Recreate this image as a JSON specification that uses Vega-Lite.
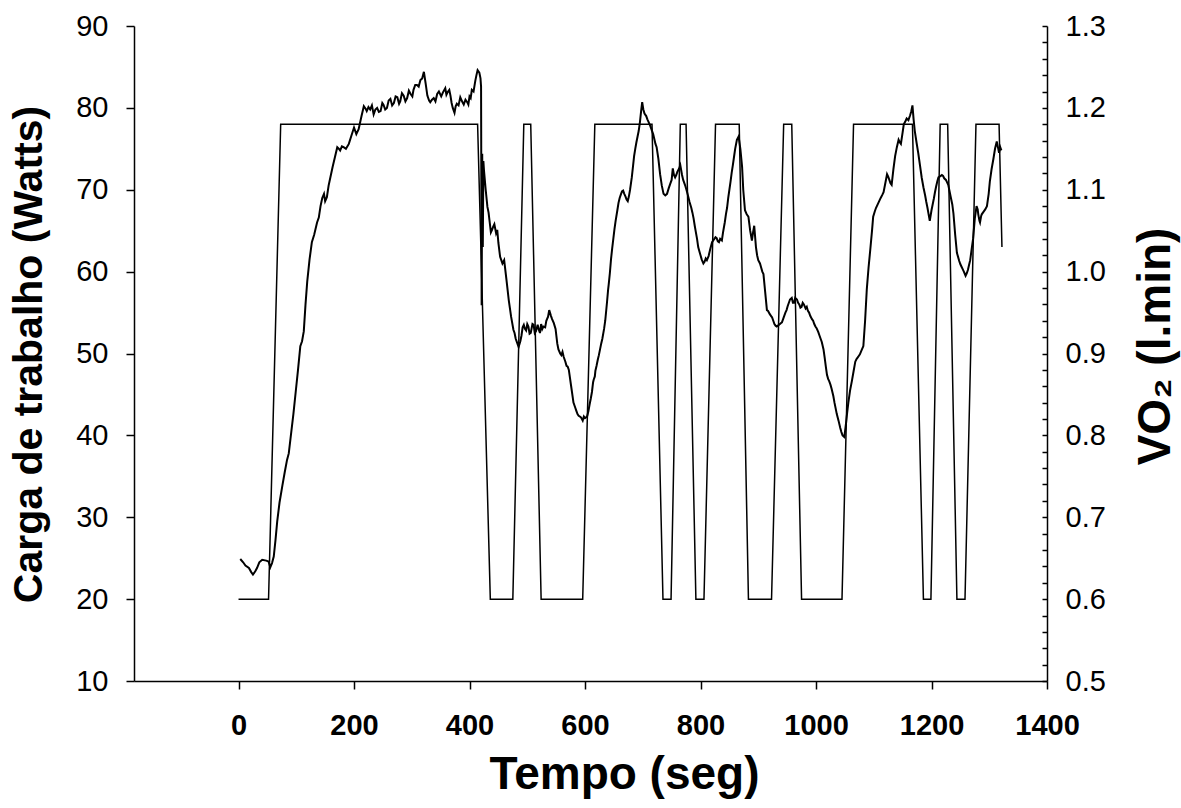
{
  "$schema": "https://vega.github.io/schema/vega-lite/v6.json",
  "autosize": {"type": "none"},
  "padding": {"left": 134, "top": 26, "right": 134, "bottom": 127},
  "width": 913,
  "height": 655,
  "background": "white",
  "config": {
    "view": {"stroke": null},
    "font": "Liberation Sans",
    "axis": {
      "grid": false,
      "domain": true,
      "ticks": true,
      "domainColor": "black",
      "domainWidth": 1.5,
      "tickColor": "black",
      "tickWidth": 1.5,
      "labelColor": "black",
      "titleColor": "black",
      "labelFont": "Liberation Sans",
      "titleFont": "Liberation Sans"
    }
  },
  "datasets": {
    "w": [
      {"t":0,"w":20},{"t":52,"w":20},{"t":73,"w":78},{"t":414,"w":78},{"t":436,"w":20},{"t":475,"w":20},{"t":494,"w":78},{"t":506,"w":78},{"t":524,"w":20},{"t":596,"w":20},{"t":617,"w":78},{"t":716,"w":78},{"t":735,"w":20},{"t":749,"w":20},{"t":765,"w":78},{"t":775,"w":78},{"t":792,"w":20},{"t":806,"w":20},{"t":826,"w":78},{"t":867,"w":78},{"t":883,"w":20},{"t":923,"w":20},{"t":944,"w":78},{"t":958,"w":78},{"t":975,"w":20},{"t":1045,"w":20},{"t":1065,"w":78},{"t":1167,"w":78},{"t":1186,"w":20},{"t":1199,"w":20},{"t":1215,"w":78},{"t":1228,"w":78},{"t":1244,"w":20},{"t":1258,"w":20},{"t":1277,"w":78},{"t":1317,"w":78},{"t":1322,"w":63}
    ],
    "v": [
      {"t":3,"v":0.649},{"t":8,"v":0.645},{"t":12,"v":0.641},{"t":18,"v":0.638},{"t":22,"v":0.633},{"t":25,"v":0.630},{"t":29,"v":0.634},{"t":32,"v":0.638},{"t":36,"v":0.645},{"t":41,"v":0.648},{"t":48,"v":0.647},{"t":52,"v":0.646},{"t":55,"v":0.639},{"t":58,"v":0.644},{"t":61,"v":0.652},{"t":64,"v":0.672},{"t":67,"v":0.695},{"t":71,"v":0.718},{"t":76,"v":0.739},{"t":80,"v":0.755},{"t":84,"v":0.770},{"t":87,"v":0.778},{"t":90,"v":0.796},{"t":95,"v":0.826},{"t":99,"v":0.853},{"t":103,"v":0.880},{"t":107,"v":0.909},{"t":110,"v":0.915},{"t":113,"v":0.927},{"t":116,"v":0.960},{"t":119,"v":0.988},{"t":123,"v":1.015},{"t":127,"v":1.036},{"t":131,"v":1.045},{"t":136,"v":1.060},{"t":139,"v":1.066},{"t":142,"v":1.080},{"t":145,"v":1.090},{"t":148,"v":1.095},{"t":150,"v":1.086},{"t":153,"v":1.091},{"t":156,"v":1.105},{"t":159,"v":1.115},{"t":163,"v":1.128},{"t":167,"v":1.140},{"t":171,"v":1.152},{"t":174,"v":1.150},{"t":176,"v":1.148},{"t":179,"v":1.153},{"t":182,"v":1.152},{"t":186,"v":1.150},{"t":191,"v":1.156},{"t":195,"v":1.165},{"t":200,"v":1.176},{"t":204,"v":1.168},{"t":208,"v":1.174},{"t":213,"v":1.190},{"t":217,"v":1.202},{"t":220,"v":1.199},{"t":222,"v":1.196},{"t":225,"v":1.201},{"t":228,"v":1.198},{"t":231,"v":1.203},{"t":234,"v":1.192},{"t":237,"v":1.198},{"t":240,"v":1.200},{"t":243,"v":1.195},{"t":246,"v":1.196},{"t":249,"v":1.206},{"t":251,"v":1.204},{"t":254,"v":1.198},{"t":257,"v":1.200},{"t":260,"v":1.209},{"t":263,"v":1.211},{"t":266,"v":1.203},{"t":269,"v":1.206},{"t":272,"v":1.214},{"t":275,"v":1.213},{"t":278,"v":1.205},{"t":280,"v":1.208},{"t":283,"v":1.218},{"t":286,"v":1.215},{"t":289,"v":1.208},{"t":292,"v":1.212},{"t":295,"v":1.221},{"t":298,"v":1.217},{"t":301,"v":1.214},{"t":303,"v":1.222},{"t":306,"v":1.228},{"t":309,"v":1.228},{"t":312,"v":1.226},{"t":315,"v":1.234},{"t":318,"v":1.236},{"t":321,"v":1.244},{"t":324,"v":1.230},{"t":327,"v":1.215},{"t":330,"v":1.209},{"t":332,"v":1.207},{"t":335,"v":1.210},{"t":338,"v":1.212},{"t":341,"v":1.208},{"t":344,"v":1.217},{"t":347,"v":1.220},{"t":351,"v":1.214},{"t":354,"v":1.219},{"t":358,"v":1.224},{"t":360,"v":1.216},{"t":362,"v":1.219},{"t":365,"v":1.222},{"t":367,"v":1.215},{"t":369,"v":1.206},{"t":371,"v":1.200},{"t":374,"v":1.194},{"t":376,"v":1.202},{"t":378,"v":1.205},{"t":381,"v":1.203},{"t":384,"v":1.213},{"t":387,"v":1.208},{"t":390,"v":1.204},{"t":393,"v":1.210},{"t":396,"v":1.207},{"t":398,"v":1.204},{"t":400,"v":1.214},{"t":402,"v":1.212},{"t":404,"v":1.222},{"t":407,"v":1.220},{"t":410,"v":1.233},{"t":412,"v":1.240},{"t":414,"v":1.246},{"t":417,"v":1.243},{"t":419,"v":1.236},{"t":420,"v":1.226},{"t":421,"v":0.959},{"t":422,"v":1.144},{"t":423,"v":1.030},{"t":424,"v":1.135},{"t":425,"v":1.124},{"t":428,"v":1.100},{"t":431,"v":1.079},{"t":433,"v":1.072},{"t":435,"v":1.060},{"t":437,"v":1.048},{"t":439,"v":1.051},{"t":441,"v":1.055},{"t":443,"v":1.058},{"t":446,"v":1.047},{"t":448,"v":1.051},{"t":450,"v":1.035},{"t":453,"v":1.018},{"t":457,"v":1.010},{"t":460,"v":1.014},{"t":464,"v":0.990},{"t":468,"v":0.965},{"t":472,"v":0.945},{"t":476,"v":0.929},{"t":478,"v":0.925},{"t":480,"v":0.918},{"t":483,"v":0.912},{"t":485,"v":0.908},{"t":488,"v":0.915},{"t":490,"v":0.922},{"t":492,"v":0.932},{"t":494,"v":0.935},{"t":496,"v":0.930},{"t":498,"v":0.928},{"t":500,"v":0.936},{"t":502,"v":0.933},{"t":504,"v":0.924},{"t":506,"v":0.925},{"t":509,"v":0.936},{"t":511,"v":0.935},{"t":513,"v":0.925},{"t":515,"v":0.927},{"t":518,"v":0.935},{"t":520,"v":0.929},{"t":522,"v":0.925},{"t":524,"v":0.936},{"t":526,"v":0.930},{"t":528,"v":0.933},{"t":531,"v":0.932},{"t":533,"v":0.940},{"t":536,"v":0.945},{"t":538,"v":0.953},{"t":541,"v":0.946},{"t":543,"v":0.942},{"t":546,"v":0.937},{"t":549,"v":0.930},{"t":552,"v":0.912},{"t":554,"v":0.905},{"t":557,"v":0.900},{"t":559,"v":0.898},{"t":561,"v":0.902},{"t":563,"v":0.896},{"t":566,"v":0.890},{"t":568,"v":0.885},{"t":570,"v":0.884},{"t":572,"v":0.880},{"t":574,"v":0.870},{"t":576,"v":0.860},{"t":578,"v":0.850},{"t":580,"v":0.840},{"t":583,"v":0.834},{"t":585,"v":0.830},{"t":587,"v":0.826},{"t":589,"v":0.824},{"t":591,"v":0.823},{"t":593,"v":0.822},{"t":596,"v":0.818},{"t":598,"v":0.823},{"t":600,"v":0.821},{"t":602,"v":0.822},{"t":604,"v":0.824},{"t":606,"v":0.830},{"t":608,"v":0.838},{"t":610,"v":0.845},{"t":612,"v":0.853},{"t":614,"v":0.865},{"t":615,"v":0.868},{"t":617,"v":0.872},{"t":618,"v":0.879},{"t":620,"v":0.885},{"t":622,"v":0.892},{"t":624,"v":0.898},{"t":626,"v":0.905},{"t":628,"v":0.912},{"t":630,"v":0.918},{"t":633,"v":0.930},{"t":635,"v":0.940},{"t":638,"v":0.962},{"t":640,"v":0.978},{"t":641,"v":0.984},{"t":643,"v":0.998},{"t":645,"v":1.015},{"t":647,"v":1.028},{"t":649,"v":1.040},{"t":651,"v":1.052},{"t":653,"v":1.062},{"t":656,"v":1.075},{"t":658,"v":1.084},{"t":660,"v":1.090},{"t":662,"v":1.094},{"t":664,"v":1.098},{"t":666,"v":1.099},{"t":668,"v":1.095},{"t":670,"v":1.092},{"t":672,"v":1.088},{"t":674,"v":1.086},{"t":676,"v":1.092},{"t":678,"v":1.100},{"t":681,"v":1.115},{"t":683,"v":1.128},{"t":685,"v":1.141},{"t":687,"v":1.150},{"t":689,"v":1.158},{"t":691,"v":1.165},{"t":693,"v":1.172},{"t":695,"v":1.182},{"t":697,"v":1.195},{"t":699,"v":1.207},{"t":701,"v":1.198},{"t":703,"v":1.193},{"t":706,"v":1.190},{"t":708,"v":1.186},{"t":710,"v":1.183},{"t":713,"v":1.178},{"t":716,"v":1.172},{"t":718,"v":1.168},{"t":720,"v":1.162},{"t":722,"v":1.156},{"t":724,"v":1.152},{"t":727,"v":1.138},{"t":730,"v":1.119},{"t":733,"v":1.105},{"t":736,"v":1.095},{"t":739,"v":1.093},{"t":742,"v":1.095},{"t":745,"v":1.102},{"t":748,"v":1.108},{"t":750,"v":1.112},{"t":752,"v":1.126},{"t":754,"v":1.118},{"t":756,"v":1.115},{"t":758,"v":1.118},{"t":760,"v":1.122},{"t":763,"v":1.126},{"t":765,"v":1.130},{"t":767,"v":1.122},{"t":768,"v":1.118},{"t":770,"v":1.112},{"t":772,"v":1.108},{"t":774,"v":1.104},{"t":776,"v":1.099},{"t":779,"v":1.091},{"t":781,"v":1.085},{"t":784,"v":1.078},{"t":786,"v":1.072},{"t":788,"v":1.065},{"t":790,"v":1.056},{"t":792,"v":1.048},{"t":794,"v":1.040},{"t":796,"v":1.030},{"t":798,"v":1.025},{"t":800,"v":1.020},{"t":802,"v":1.015},{"t":805,"v":1.010},{"t":807,"v":1.012},{"t":809,"v":1.016},{"t":811,"v":1.014},{"t":814,"v":1.019},{"t":817,"v":1.028},{"t":820,"v":1.036},{"t":822,"v":1.038},{"t":824,"v":1.040},{"t":826,"v":1.042},{"t":828,"v":1.041},{"t":830,"v":1.037},{"t":832,"v":1.036},{"t":834,"v":1.040},{"t":837,"v":1.038},{"t":839,"v":1.048},{"t":842,"v":1.060},{"t":844,"v":1.070},{"t":846,"v":1.078},{"t":848,"v":1.090},{"t":850,"v":1.100},{"t":852,"v":1.110},{"t":854,"v":1.121},{"t":856,"v":1.130},{"t":858,"v":1.140},{"t":860,"v":1.150},{"t":863,"v":1.161},{"t":866,"v":1.165},{"t":869,"v":1.150},{"t":872,"v":1.128},{"t":874,"v":1.100},{"t":877,"v":1.075},{"t":880,"v":1.070},{"t":883,"v":1.067},{"t":886,"v":1.050},{"t":889,"v":1.038},{"t":891,"v":1.048},{"t":893,"v":1.056},{"t":896,"v":1.030},{"t":898,"v":1.020},{"t":900,"v":1.014},{"t":903,"v":1.010},{"t":905,"v":1.005},{"t":907,"v":1.000},{"t":909,"v":0.997},{"t":912,"v":0.975},{"t":915,"v":0.953},{"t":917,"v":0.952},{"t":920,"v":0.948},{"t":922,"v":0.946},{"t":924,"v":0.944},{"t":926,"v":0.940},{"t":928,"v":0.936},{"t":930,"v":0.934},{"t":932,"v":0.933},{"t":934,"v":0.934},{"t":936,"v":0.935},{"t":939,"v":0.937},{"t":941,"v":0.938},{"t":943,"v":0.942},{"t":945,"v":0.946},{"t":947,"v":0.950},{"t":949,"v":0.953},{"t":951,"v":0.958},{"t":953,"v":0.962},{"t":955,"v":0.966},{"t":958,"v":0.968},{"t":960,"v":0.962},{"t":962,"v":0.962},{"t":964,"v":0.968},{"t":967,"v":0.966},{"t":969,"v":0.962},{"t":971,"v":0.960},{"t":973,"v":0.956},{"t":975,"v":0.957},{"t":977,"v":0.962},{"t":979,"v":0.960},{"t":982,"v":0.955},{"t":984,"v":0.957},{"t":986,"v":0.952},{"t":988,"v":0.950},{"t":990,"v":0.946},{"t":993,"v":0.942},{"t":995,"v":0.940},{"t":997,"v":0.936},{"t":999,"v":0.933},{"t":1001,"v":0.931},{"t":1004,"v":0.926},{"t":1006,"v":0.922},{"t":1008,"v":0.918},{"t":1010,"v":0.914},{"t":1013,"v":0.905},{"t":1015,"v":0.895},{"t":1017,"v":0.884},{"t":1019,"v":0.874},{"t":1021,"v":0.869},{"t":1023,"v":0.866},{"t":1025,"v":0.862},{"t":1027,"v":0.857},{"t":1030,"v":0.848},{"t":1032,"v":0.840},{"t":1034,"v":0.833},{"t":1036,"v":0.826},{"t":1039,"v":0.818},{"t":1042,"v":0.809},{"t":1044,"v":0.804},{"t":1046,"v":0.800},{"t":1049,"v":0.798},{"t":1052,"v":0.815},{"t":1054,"v":0.828},{"t":1056,"v":0.840},{"t":1059,"v":0.855},{"t":1062,"v":0.866},{"t":1065,"v":0.878},{"t":1068,"v":0.890},{"t":1070,"v":0.893},{"t":1072,"v":0.895},{"t":1074,"v":0.897},{"t":1076,"v":0.899},{"t":1079,"v":0.904},{"t":1082,"v":0.909},{"t":1085,"v":0.940},{"t":1088,"v":0.979},{"t":1091,"v":1.005},{"t":1094,"v":1.027},{"t":1097,"v":1.050},{"t":1099,"v":1.067},{"t":1102,"v":1.074},{"t":1104,"v":1.078},{"t":1108,"v":1.084},{"t":1110,"v":1.087},{"t":1112,"v":1.090},{"t":1115,"v":1.094},{"t":1117,"v":1.097},{"t":1120,"v":1.108},{"t":1123,"v":1.119},{"t":1125,"v":1.116},{"t":1127,"v":1.112},{"t":1129,"v":1.108},{"t":1131,"v":1.106},{"t":1134,"v":1.125},{"t":1137,"v":1.141},{"t":1140,"v":1.152},{"t":1143,"v":1.161},{"t":1145,"v":1.158},{"t":1147,"v":1.156},{"t":1150,"v":1.170},{"t":1152,"v":1.180},{"t":1155,"v":1.184},{"t":1157,"v":1.187},{"t":1160,"v":1.185},{"t":1163,"v":1.191},{"t":1165,"v":1.196},{"t":1167,"v":1.203},{"t":1169,"v":1.186},{"t":1171,"v":1.172},{"t":1174,"v":1.158},{"t":1177,"v":1.145},{"t":1180,"v":1.130},{"t":1183,"v":1.115},{"t":1186,"v":1.103},{"t":1189,"v":1.093},{"t":1191,"v":1.085},{"t":1193,"v":1.078},{"t":1195,"v":1.070},{"t":1197,"v":1.062},{"t":1200,"v":1.075},{"t":1202,"v":1.082},{"t":1204,"v":1.089},{"t":1206,"v":1.097},{"t":1208,"v":1.104},{"t":1210,"v":1.110},{"t":1212,"v":1.115},{"t":1214,"v":1.116},{"t":1216,"v":1.117},{"t":1218,"v":1.118},{"t":1220,"v":1.117},{"t":1222,"v":1.114},{"t":1225,"v":1.112},{"t":1227,"v":1.109},{"t":1229,"v":1.106},{"t":1231,"v":1.099},{"t":1233,"v":1.092},{"t":1236,"v":1.082},{"t":1238,"v":1.071},{"t":1241,"v":1.045},{"t":1244,"v":1.023},{"t":1246,"v":1.018},{"t":1248,"v":1.013},{"t":1250,"v":1.009},{"t":1252,"v":1.006},{"t":1254,"v":1.003},{"t":1256,"v":1.000},{"t":1259,"v":0.995},{"t":1261,"v":0.998},{"t":1263,"v":1.002},{"t":1265,"v":1.008},{"t":1267,"v":1.014},{"t":1270,"v":1.030},{"t":1272,"v":1.040},{"t":1275,"v":1.065},{"t":1278,"v":1.080},{"t":1280,"v":1.076},{"t":1281,"v":1.070},{"t":1283,"v":1.062},{"t":1284,"v":1.060},{"t":1286,"v":1.068},{"t":1287,"v":1.070},{"t":1290,"v":1.073},{"t":1293,"v":1.076},{"t":1296,"v":1.080},{"t":1299,"v":1.095},{"t":1301,"v":1.110},{"t":1304,"v":1.125},{"t":1307,"v":1.137},{"t":1310,"v":1.150},{"t":1313,"v":1.159},{"t":1315,"v":1.152},{"t":1317,"v":1.145},{"t":1319,"v":1.152},{"t":1321,"v":1.148}
    ]
  },
  "encoding": {
    "x": {
      "field": "t",
      "type": "quantitative",
      "scale": {"domain": [-181, 1400], "nice": false, "zero": false},
      "axis": {
        "values": [0, 200, 400, 600, 800, 1000, 1200, 1400],
        "format": "d",
        "title": "Tempo (seg)",
        "labelFontSize": 29,
        "labelFontWeight": "bold",
        "tickSize": 8,
        "labelPadding": 22,
        "labelFlush": false,
        "labelOverlap": false,
        "titleFontSize": 46,
        "titleFontWeight": "bold",
        "titleX": 490,
        "titleY": 107,
        "titleBaseline": "alphabetic",
        "titleAlign": "center"
      }
    }
  },
  "layer": [
    {
      "data": {"name": "w"},
      "mark": {"type": "line", "color": "black", "strokeWidth": 1.5},
      "encoding": {
        "y": {
          "field": "w",
          "type": "quantitative",
          "scale": {"domain": [10, 90], "nice": false, "zero": false},
          "axis": {
            "values": [10, 20, 30, 40, 50, 60, 70, 80, 90],
            "title": "Carga de trabalho (Watts)",
            "labelFontSize": 29,
            "tickSize": 8,
            "labelPadding": 18,
            "labelOverlap": false,
            "domain": true,
            "titleFontSize": 41,
            "titleFontWeight": "bold",
            "titleAngle": 270,
            "titleX": -93,
            "titleY": 328,
            "titleBaseline": "alphabetic",
            "titleAlign": "center"
          }
        }
      }
    },
    {
      "data": {"name": "v"},
      "mark": {"type": "line", "color": "black", "strokeWidth": 2},
      "encoding": {
        "y": {
          "field": "v",
          "type": "quantitative",
          "scale": {"domain": [0.5, 1.3], "nice": false, "zero": false},
          "axis": {
            "orient": "right",
            "values": [0.5,0.52,0.54,0.56,0.58,0.6,0.62,0.64,0.66,0.68,0.7,0.72,0.74,0.76,0.78,0.8,0.82,0.84,0.86,0.88,0.9,0.92,0.94,0.96,0.98,1.0,1.02,1.04,1.06,1.08,1.1,1.12,1.14,1.16,1.18,1.2,1.22,1.24,1.26,1.28,1.3],
            "labelExpr": "abs(datum.value*10 - round(datum.value*10)) < 0.001 ? format(datum.value, '.1f') : ''",
            "labelFontSize": 29,
            "tickSize": -5,
            "labelPadding": 23,
            "labelOverlap": false,
            "domain": true,
            "title": "VO₂ (l.min)",
            "titleFontSize": 46,
            "titleFontWeight": "bold",
            "titleAngle": 270,
            "titleX": 122,
            "titleY": 320,
            "titleBaseline": "alphabetic",
            "titleAlign": "center"
          }
        }
      }
    }
  ],
  "resolve": {"scale": {"y": "independent"}}
}
